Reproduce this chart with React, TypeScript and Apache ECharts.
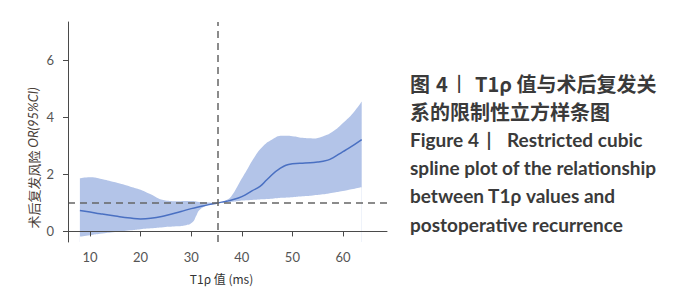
import React, { useEffect, useRef } from 'react';
import * as echarts from 'echarts';

// Confidence band (95% CI) of the restricted cubic spline
const BAND_X = [8, 10, 12, 15, 18, 20, 22, 24.5, 27, 29, 30.3, 31, 31.7, 33.3, 35.2, 37, 38, 39.5, 41, 42.5, 44, 46, 48, 50, 52, 54, 56, 58, 60, 62, 63.7];
const BAND_LOWER = [-0.18, -0.13, -0.08, -0.02, 0.04, 0.08, 0.11, 0.15, 0.18, 0.22, 0.33, 0.55, 0.76, 0.92, 1.0, 1.02, 1.04, 1.07, 1.09, 1.11, 1.13, 1.15, 1.18, 1.2, 1.23, 1.26, 1.3, 1.36, 1.42, 1.49, 1.55];
const BAND_UPPER = [1.86, 1.9, 1.85, 1.72, 1.57, 1.46, 1.3, 1.1, 1.06, 1.07, 1.07, 1.05, 1.03, 1.01, 1.0, 1.1, 1.25, 1.7, 2.15, 2.6, 2.95, 3.22, 3.35, 3.34, 3.28, 3.26, 3.33, 3.5, 3.8, 4.15, 4.55];

// Fitted OR curve
const FIT_X = [8, 10, 12, 15, 18, 20, 22, 25, 28, 30, 32, 33.5, 35.2, 37, 38, 40, 42, 43.6, 45, 47.5, 50, 52.5, 55, 57, 58, 60, 61, 63.7];
const FIT_Y = [0.73, 0.68, 0.62, 0.54, 0.47, 0.44, 0.46, 0.56, 0.7, 0.8, 0.88, 0.94, 1.0, 1.06, 1.1, 1.22, 1.42, 1.58, 1.82, 2.2, 2.37, 2.4, 2.43, 2.5, 2.58, 2.8, 2.9, 3.22];

const X_TICKS = [10, 20, 30, 40, 50, 60];
const Y_TICKS = [0, 2, 4, 6];
const CUTOFF_X = 35.2;
const REF_Y = 1;

const X_NAME = 'T1ρ 值 (ms)';
const Y_NAME = '术后复发风险 {i|OR(95%CI)}';

const CAPTION_CN_1A = '图';
const CAPTION_CN_1NUM = '4';
const CAPTION_CN_1B = 'T1ρ 值与术后复发关';
const CAPTION_CN_2 = '系的限制性立方样条图';
const CAPTION_EN_1A = 'Figure 4';
const CAPTION_EN_1B = 'Restricted cubic';
const CAPTION_EN_LINES = ['spline plot of the relationship', 'between T1ρ values and', 'postoperative recurrence'];

export default function App() {
  const ref = useRef<HTMLDivElement>(null);
  useEffect(() => {
    if (!ref.current) return;
    const chart = echarts.init(ref.current, undefined, { renderer: 'svg' });
    const textColor = '#3a3a3a';
    const cnFont = '"Noto Sans CJK SC", sans-serif';
    const enFont = 'Lato, "Noto Sans", sans-serif';
    const axisColor = '#4a4a4a';
    const enSize = 19;

    const enTexts: any[] = [
      { type: 'text', x: 410, y: 139, style: { text: CAPTION_EN_1A, font: `bold ${enSize}px ${enFont}`, fill: textColor, verticalAlign: 'middle' } },
      { type: 'text', x: 489, y: 139, style: { text: '|', font: `bold ${enSize}px ${enFont}`, fill: textColor, align: 'center', verticalAlign: 'middle' } },
      { type: 'text', x: 507, y: 139, style: { text: CAPTION_EN_1B, font: `bold ${enSize}px ${enFont}`, fill: textColor, verticalAlign: 'middle' } },
    ];
    const enYs = [167, 195, 224];
    CAPTION_EN_LINES.forEach((t, i) => {
      enTexts.push({ type: 'text', x: 410, y: enYs[i], style: { text: t, font: `bold ${enSize}px ${enFont}`, fill: textColor, verticalAlign: 'middle' } });
    });

    chart.setOption({
      animation: false,
      grid: { left: 68, right: 290, top: 22, bottom: 58 },
      xAxis: {
        type: 'value',
        min: 5.65,
        max: 68.7,
        z: 10,
        axisLine: { show: true, lineStyle: { color: axisColor, width: 1 } },
        axisTick: { show: true, customValues: X_TICKS, length: 5, lineStyle: { color: axisColor } },
        axisLabel: { customValues: X_TICKS, margin: 8, color: '#555', fontSize: 13, fontFamily: 'Lato' },
        splitLine: { show: false },
        name: X_NAME,
        nameLocation: 'middle',
        nameGap: 30,
        nameTextStyle: { color: '#333', fontSize: 12, fontFamily: cnFont, padding: [0, 12, 0, 0] },
      },
      yAxis: {
        type: 'value',
        min: -0.37,
        max: 7.34,
        z: 10,
        axisLine: { show: true, lineStyle: { color: axisColor, width: 1 } },
        axisTick: { show: true, customValues: Y_TICKS, length: 5, lineStyle: { color: axisColor } },
        axisLabel: { customValues: Y_TICKS, margin: 14, color: '#555', fontSize: 13, fontFamily: 'Lato' },
        splitLine: { show: false },
      },
      graphic: [
        {
          type: 'text',
          x: 33,
          y: 158,
          rotation: Math.PI / 2,
          style: {
            text: Y_NAME,
            font: `13px ${cnFont}`,
            fill: '#4a4038',
            align: 'center',
            verticalAlign: 'middle',
            rich: { i: { fontStyle: 'italic', fontSize: 13, fontFamily: 'Lato', fill: '#4a4038' } },
          },
        },
        { type: 'text', x: 410, y: 83, style: { text: CAPTION_CN_1A, font: `bold 20px ${cnFont}`, fill: textColor, verticalAlign: 'middle' } },
        { type: 'text', x: 436, y: 83, style: { text: CAPTION_CN_1NUM, font: `bold 20px ${cnFont}`, fill: textColor, verticalAlign: 'middle' } },
        { type: 'text', x: 459, y: 83, style: { text: '|', font: `bold 18px ${enFont}`, fill: textColor, align: 'center', verticalAlign: 'middle' } },
        { type: 'text', x: 475, y: 83, style: { text: CAPTION_CN_1B, font: `bold 20px ${cnFont}`, fill: textColor, verticalAlign: 'middle' } },
        { type: 'text', x: 410, y: 111, style: { text: CAPTION_CN_2, font: `bold 20px ${cnFont}`, fill: textColor, verticalAlign: 'middle' } },
        ...enTexts,
      ],
      series: [
        {
          // upper CI bound, filled down to the axis
          type: 'line',
          data: BAND_X.map((x, i) => [x, BAND_UPPER[i]]),
          symbol: 'none',
          smooth: true,
          silent: true,
          lineStyle: { opacity: 0 },
          areaStyle: { color: '#b3c4e8', opacity: 1, origin: 'start' },
          z: 1,
        },
        {
          // lower CI bound, clearing the area below it
          type: 'line',
          data: BAND_X.map((x, i) => [x, BAND_LOWER[i]]),
          symbol: 'none',
          smooth: true,
          silent: true,
          lineStyle: { opacity: 0 },
          areaStyle: { color: '#ffffff', opacity: 1, origin: 'start' },
          z: 2,
        },
        {
          type: 'line',
          data: FIT_X.map((x, i) => [x, FIT_Y[i]]),
          symbol: 'none',
          smooth: true,
          silent: true,
          lineStyle: { color: '#4a70c2', width: 1.5 },
          z: 5,
          markLine: {
            silent: true,
            symbol: 'none',
            label: { show: false },
            lineStyle: { color: '#666', type: [7, 5], width: 1.5 },
            data: [{ xAxis: CUTOFF_X }, { yAxis: REF_Y }],
            z: 6,
          },
        },
      ],
    });
    return () => chart.dispose();
  }, []);
  return <div ref={ref} style={{ width: 677, height: 300, margin: -8 }} />;
}
